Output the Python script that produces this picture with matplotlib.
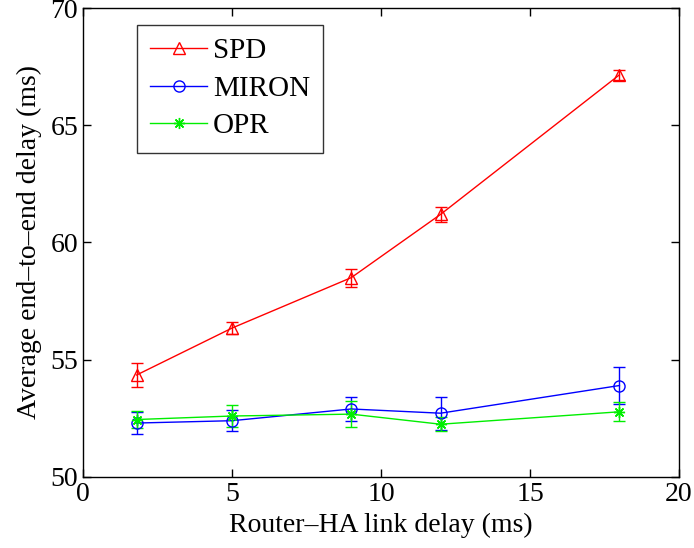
import matplotlib
matplotlib.use("Agg")
import matplotlib.pyplot as plt
import numpy as np

# link delay values (ms)
delays = [1.8, 5, 9, 12, 18]

spd = [54.35, 56.35, 58.5, 61.2, 67.15]
spd_err = [0.5, 0.25, 0.38, 0.33, 0.22]

miron = [52.3, 52.4, 52.9, 52.72, 53.9]
miron_err = [0.45, 0.45, 0.5, 0.7, 0.77]

opr = [52.45, 52.6, 52.68, 52.25, 52.78]
opr_err = [0.38, 0.45, 0.55, 0.3, 0.4]

plt.rcParams['font.family'] = ['Liberation Serif', 'DejaVu Serif']

fig = plt.figure(figsize=(6.94, 5.48), dpi=100)
ax = fig.add_axes([0.1196, 0.1296, 0.8588, 0.8558])

asterisk = (8, 2, 0)
ax.errorbar(delays, spd, yerr=spd_err, color='#ff0000', marker='^', mfc='none',
            ms=8, lw=1, capsize=4, elinewidth=1, label='SPD')
ax.errorbar(delays, miron, yerr=miron_err, color='#0000ff', marker='o', mfc='none',
            ms=8, lw=1, capsize=4, elinewidth=1, label='MIRON')
ax.errorbar(delays, opr, yerr=opr_err, color='#00ee00', marker=asterisk,
            ms=8, lw=1, capsize=4, elinewidth=1, label='OPR')

ax.set_xlim(0, 20)
ax.set_ylim(50, 70)
ax.set_xticks(np.arange(0, 21, 5))
ax.set_yticks(np.arange(50, 71, 5))
ax.tick_params(direction='in', top=True, right=True, labelsize=20, length=6, width=1)
for s in ax.spines.values():
    s.set_linewidth(1)

ax.set_xlabel('Router\u2013HA link delay (ms)', fontsize=20, labelpad=4)
ax.set_ylabel('Average end\u2013to\u2013end delay (ms)', fontsize=20, labelpad=6)

handles, labels = ax.get_legend_handles_labels()
handles = [h[0] for h in handles]
leg = ax.legend(handles, labels, loc='upper left', bbox_to_anchor=(0.091, 0.964),
                borderaxespad=0, fontsize=21, frameon=True, fancybox=False,
                edgecolor='black', handlelength=1.95, handletextpad=0.2,
                borderpad=0.45, labelspacing=0.38)
leg.get_frame().set_linewidth(1)

fig.savefig('out.png', dpi=100)
